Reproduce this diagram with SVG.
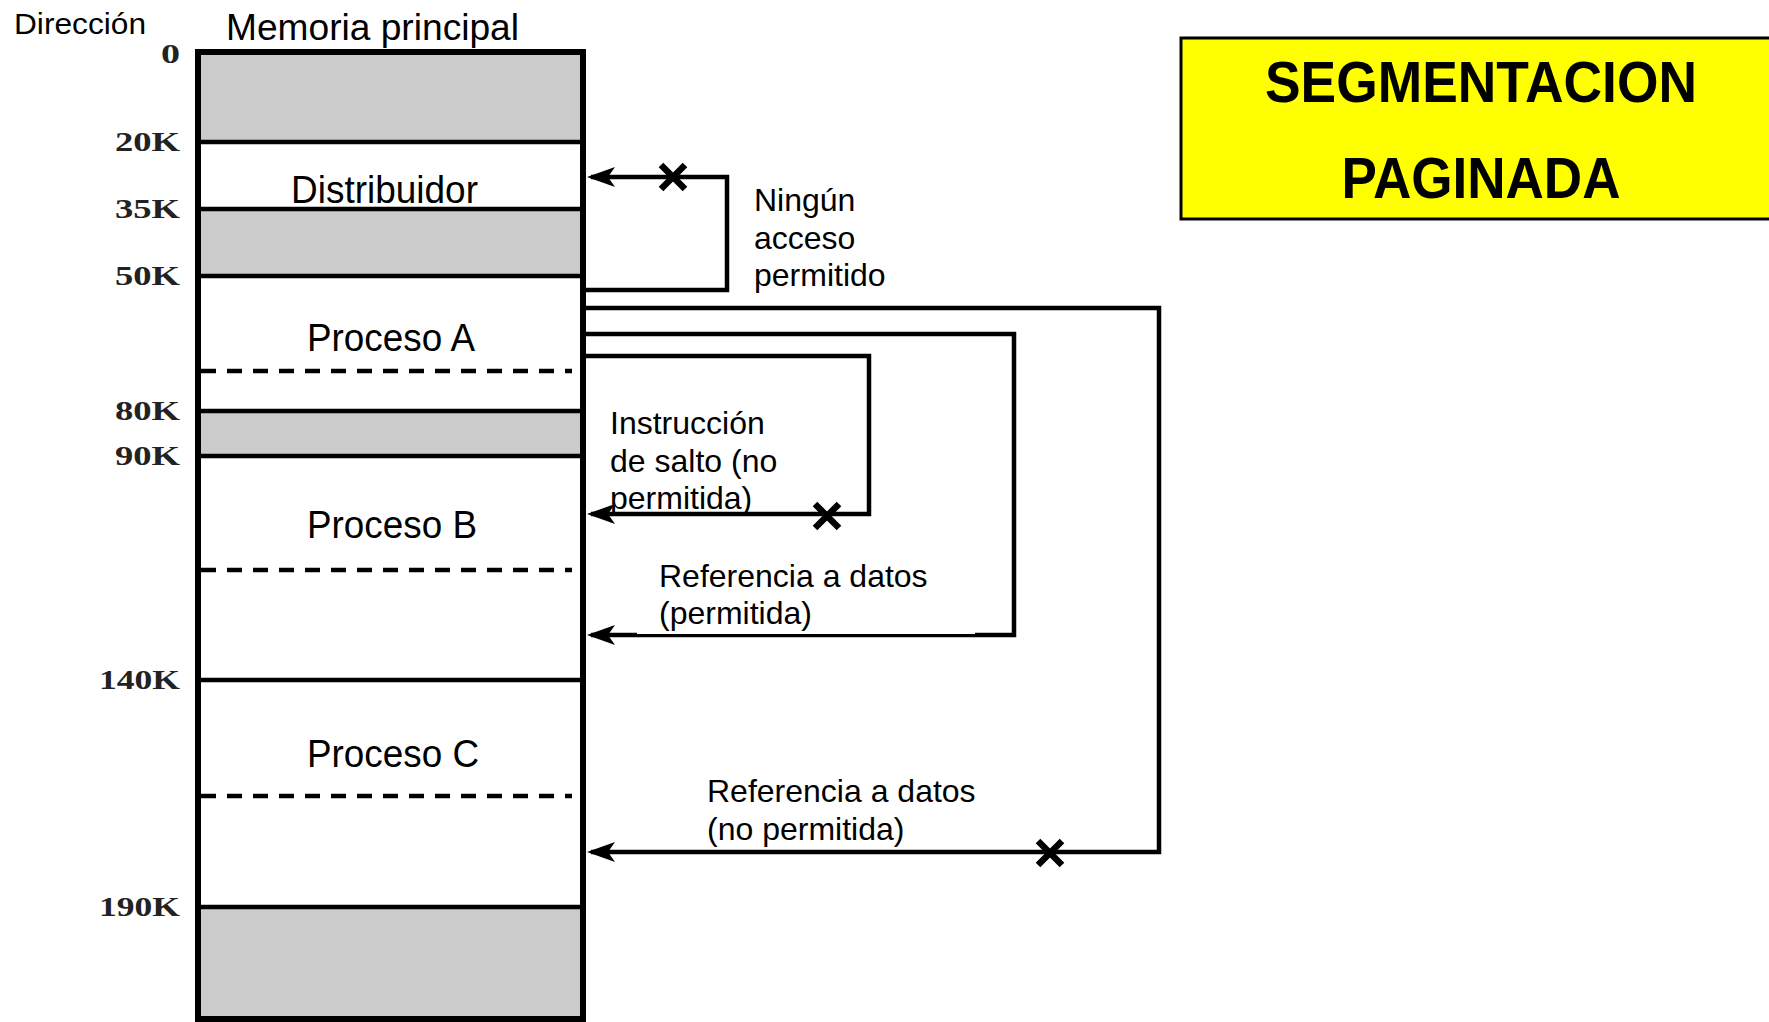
<svg xmlns="http://www.w3.org/2000/svg" width="1769" height="1022" viewBox="0 0 1769 1022">
<style>
.lbl{font-family:"Liberation Sans",Arial,sans-serif;fill:#000}
.big{font-size:38px}
.mid{font-size:32px}
.addr{font-family:"Liberation Serif","Times New Roman",serif;font-weight:bold;font-size:28px;fill:#222;text-anchor:end}
.sep{stroke:#000;stroke-width:4.5;fill:none}
.dash{stroke:#000;stroke-width:4.5;stroke-dasharray:15 11;fill:none}
.gray{fill:#cbcbcb}
.conn{stroke:#000;stroke-width:4.5;fill:none;stroke-linejoin:miter}
.xm{stroke:#000;stroke-width:6.5;stroke-linecap:butt}
</style>
<defs>
<marker id="arr" markerUnits="userSpaceOnUse" viewBox="0 0 28 20" refX="24" refY="10" markerWidth="28" markerHeight="20" orient="auto">
<path d="M0,0 L28,10 L0,20 L7,10 Z" fill="#000"/>
</marker>
</defs>
<rect width="1769" height="1022" fill="#fff"/>

<g id="title">
<rect x="1181" y="38" width="600" height="181" fill="#ffff00" stroke="#000" stroke-width="3"/>
<text x="1481" y="102" text-anchor="middle" font-family="'Liberation Sans',Arial,sans-serif" font-weight="bold" font-size="58" textLength="432" lengthAdjust="spacingAndGlyphs">SEGMENTACION</text>
<text x="1481" y="198" text-anchor="middle" font-family="'Liberation Sans',Arial,sans-serif" font-weight="bold" font-size="58" textLength="279" lengthAdjust="spacingAndGlyphs">PAGINADA</text>
</g>

<g id="headers">
<text class="lbl" x="14" y="34" font-size="29" textLength="132" lengthAdjust="spacingAndGlyphs">Dirección</text>
<text class="lbl" x="226" y="40" font-size="37" textLength="293" lengthAdjust="spacingAndGlyphs">Memoria principal</text>
</g>

<g id="memory">
<rect class="gray" x="198" y="52" width="385" height="90"/>
<rect class="gray" x="198" y="209" width="385" height="67"/>
<rect class="gray" x="198" y="411" width="385" height="45"/>
<rect class="gray" x="198" y="907" width="385" height="112"/>
<line class="sep" x1="198" y1="142" x2="583" y2="142"/>
<line class="sep" x1="198" y1="209" x2="583" y2="209"/>
<line class="sep" x1="198" y1="276" x2="583" y2="276"/>
<line class="sep" x1="198" y1="411" x2="583" y2="411"/>
<line class="sep" x1="198" y1="456" x2="583" y2="456"/>
<line class="sep" x1="198" y1="680" x2="583" y2="680"/>
<line class="sep" x1="198" y1="907" x2="583" y2="907"/>
<line class="dash" x1="201" y1="371" x2="572" y2="371"/>
<line class="dash" x1="201" y1="570" x2="572" y2="570"/>
<line class="dash" x1="201" y1="796" x2="572" y2="796"/>
<rect x="198" y="52" width="385" height="967" fill="none" stroke="#000" stroke-width="6"/>
</g>

<g id="seg-distribuidor"><text class="lbl big" x="291" y="203" textLength="187" lengthAdjust="spacingAndGlyphs">Distribuidor</text></g>
<g id="seg-procesoA"><text class="lbl big" x="307" y="351" textLength="168" lengthAdjust="spacingAndGlyphs">Proceso A</text></g>
<g id="seg-procesoB"><text class="lbl big" x="307" y="538" textLength="170" lengthAdjust="spacingAndGlyphs">Proceso B</text></g>
<g id="seg-procesoC"><text class="lbl big" x="307" y="767" textLength="172" lengthAdjust="spacingAndGlyphs">Proceso C</text></g>

<g id="addresses">
<text class="addr" x="180" y="63" textLength="19" lengthAdjust="spacingAndGlyphs">0</text>
<text class="addr" x="180" y="151" textLength="65" lengthAdjust="spacingAndGlyphs">20K</text>
<text class="addr" x="180" y="218" textLength="65" lengthAdjust="spacingAndGlyphs">35K</text>
<text class="addr" x="180" y="285" textLength="65" lengthAdjust="spacingAndGlyphs">50K</text>
<text class="addr" x="180" y="420" textLength="65" lengthAdjust="spacingAndGlyphs">80K</text>
<text class="addr" x="180" y="465" textLength="65" lengthAdjust="spacingAndGlyphs">90K</text>
<text class="addr" x="180" y="689" textLength="81" lengthAdjust="spacingAndGlyphs">140K</text>
<text class="addr" x="180" y="916" textLength="81" lengthAdjust="spacingAndGlyphs">190K</text>
</g>

<g id="connectors">
<path class="conn" d="M583,290 H727 V177 H591" marker-end="url(#arr)"/>
<path class="conn" d="M583,308 H1159 V852 H591" marker-end="url(#arr)"/>
<path class="conn" d="M583,334 H1014 V635 H591" marker-end="url(#arr)"/>
<path class="conn" d="M583,356 H869 V514 H591" marker-end="url(#arr)"/>
<rect x="637" y="628" width="338" height="6" fill="#fff"/>
<g id="x-marks">
<path class="xm" d="M661,165 L685,189 M685,165 L661,189"/>
<path class="xm" d="M815,504 L839,528 M839,504 L815,528"/>
<path class="xm" d="M1038,841 L1062,865 M1062,841 L1038,865"/>
</g>
</g>

<g id="label-ningun">
<text class="lbl mid" x="754" y="211">Ningún</text>
<text class="lbl mid" x="754" y="249">acceso</text>
<text class="lbl mid" x="754" y="286">permitido</text>
</g>
<g id="label-salto">
<text class="lbl mid" x="610" y="434">Instrucción</text>
<text class="lbl mid" x="610" y="472">de salto (no</text>
<text class="lbl mid" x="610" y="509">permitida)</text>
</g>
<g id="label-ref1">
<text class="lbl mid" x="659" y="587">Referencia a datos</text>
<text class="lbl mid" x="659" y="624">(permitida)</text>
</g>
<g id="label-ref2">
<text class="lbl mid" x="707" y="802">Referencia a datos</text>
<text class="lbl mid" x="707" y="840">(no permitida)</text>
</g>
</svg>
